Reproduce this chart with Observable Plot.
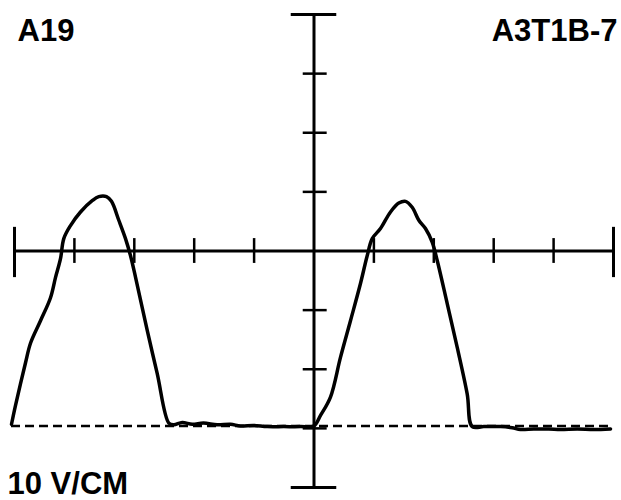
<!DOCTYPE html>
<html>
<head>
<meta charset="utf-8">
<script src="https://cdn.jsdelivr.net/npm/d3@7"></script>
<script src="https://cdn.jsdelivr.net/npm/@observablehq/plot@0.6"></script>
<style>
  html, body { margin: 0; padding: 0; background: #fff; }
  svg { display: block; }
</style>
</head>
<body>
<div id="chart"></div>
<script>
// Oscilloscope graticule (divisions)
const xDivisions = [0, 10];
const yDivisions = [-4, 4];
const xTicks = [1, 2, 3, 4, 6, 7, 8, 9];
const yTicks = [-3, -2, -1, 1, 2, 3];
const xCenter = 5;
const baselineLevel = -2.96;

// Labels
const leftLabel = "A19";
const rightLabel = "A3T1B-7";
const scaleLabel = "10 V/CM";

// Trace (time in divisions, voltage in divisions)
const traceTime = [
  -0.050, 0.017, 0.184, 0.267, 0.434, 0.601, 0.684, 0.768, 0.823, 0.935,
  1.102, 1.297, 1.407, 1.536, 1.619, 1.741, 1.853, 1.937, 2.020, 2.215,
  2.382, 2.576, 2.659, 2.800, 2.967, 3.155, 3.384, 3.606, 3.773, 3.990,
  4.219, 4.496, 4.775, 4.997, 5.109, 5.275, 5.442, 5.609, 5.776, 5.888,
  5.972, 6.110, 6.277, 6.416, 6.528, 6.639, 6.750, 6.861, 6.973, 7.057,
  7.224, 7.391, 7.558, 7.641, 7.835, 8.114, 8.309, 8.447, 8.670, 8.920,
  9.115, 9.394, 9.671, 9.950
];
const traceVolts = [
  -2.93, -2.61, -1.89, -1.56, -1.18, -0.79, -0.45, -0.13, 0.21, 0.43,
  0.66, 0.85, 0.92, 0.92, 0.84, 0.52, 0.21, -0.08, -0.44, -1.34,
  -2.07, -2.91, -2.94, -2.90, -2.93, -2.91, -2.94, -2.93, -2.96, -2.95,
  -2.97, -2.97, -2.97, -2.96, -2.78, -2.47, -1.80, -1.18, -0.55, -0.08,
  0.21, 0.38, 0.66, 0.81, 0.84, 0.74, 0.52, 0.38, 0.15, -0.16,
  -0.89, -1.63, -2.42, -2.97, -2.97, -2.97, -2.99, -3.02, -3.01, -3.01,
  -3.02, -3.01, -3.02, -3.01
];

const trace = traceTime.map((t, i) => ({t, v: traceVolts[i]}));
const font = "'Liberation Sans', Arial, Helvetica, sans-serif";

const chart = Plot.plot({
  width: 621,
  height: 500,
  marginLeft: 14,
  marginRight: 8,
  marginTop: 14,
  marginBottom: 13,
  style: {background: "#fff", overflow: "visible"},
  x: {domain: xDivisions, axis: null},
  y: {domain: yDivisions, axis: null},
  marks: [
    // dashed ground reference
    Plot.ruleY([baselineLevel], {x1: traceTime[0], x2: xDivisions[1], stroke: "#000", strokeWidth: 2.5, strokeDasharray: "9,5"}),
    // horizontal axis
    Plot.ruleY([0], {x1: xDivisions[0], x2: xDivisions[1], stroke: "#000", strokeWidth: 3}),
    // vertical axis
    Plot.ruleX([xCenter], {y1: yDivisions[0], y2: yDivisions[1], stroke: "#000", strokeWidth: 3}),
    // horizontal-axis ticks
    Plot.ruleX(xTicks, {x: d => d, y1: -0.21, y2: 0.21, stroke: "#000", strokeWidth: 2.5}),
    // horizontal-axis end caps
    Plot.ruleX(xDivisions, {x: d => d, y1: -0.45, y2: 0.4, stroke: "#000", strokeWidth: 3}),
    // vertical-axis ticks
    Plot.ruleY(yTicks, {y: d => d, x1: xCenter - 0.18, x2: xCenter + 0.22, stroke: "#000", strokeWidth: 2.5}),
    // vertical-axis end caps
    Plot.ruleY(yDivisions, {y: d => d, x1: xCenter - 0.38, x2: xCenter + 0.38, stroke: "#000", strokeWidth: 3}),
    // trace
    Plot.line(trace, {x: "t", y: "v", stroke: "#000", strokeWidth: 3.5, curve: "catmull-rom", strokeLinejoin: "round", strokeLinecap: "round"}),
    // labels
    Plot.text([leftLabel], {text: d => d, frameAnchor: "top-left", dx: 3, dy: 26, textAnchor: "start", lineAnchor: "bottom", fontSize: 31, fontWeight: "bold", fontFamily: font, fill: "#000"}),
    Plot.text([rightLabel], {text: d => d, frameAnchor: "top-right", dx: 4, dy: 26, textAnchor: "end", lineAnchor: "bottom", fontSize: 31, fontWeight: "bold", fontFamily: font, fill: "#000"}),
    Plot.text([scaleLabel], {text: d => d, frameAnchor: "bottom-left", dx: -7, dy: 6, textAnchor: "start", lineAnchor: "bottom", fontSize: 31, fontWeight: "bold", fontFamily: font, fill: "#000"})
  ]
});
document.getElementById("chart").appendChild(chart);
</script>
</body>
</html>
